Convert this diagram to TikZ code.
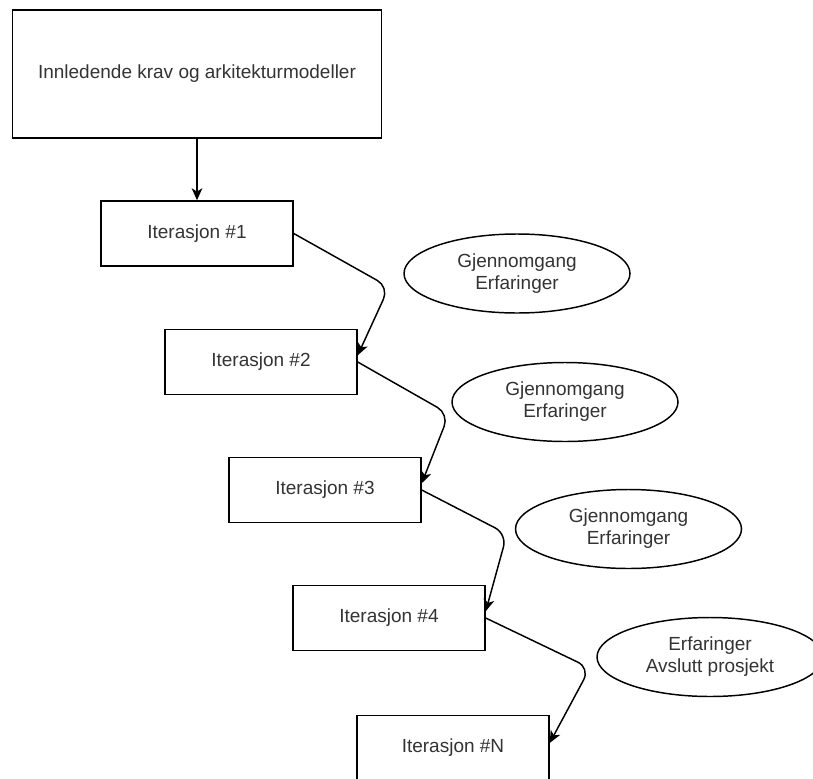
\documentclass[tikz,border=0pt]{standalone}
\usepackage{fontspec}
\setmainfont{Liberation Sans}
\usetikzlibrary{arrows.meta,calc,shapes.geometric}
\definecolor{ink}{HTML}{333333}
\begin{document}
\begin{tikzpicture}[x=0.75pt,y=-0.75pt,
  every node/.style={font=\fontsize{14.25pt}{16.5pt}\selectfont, text=ink},
  box/.style={draw=black, line width=1.1pt, minimum width=144pt, minimum height=48.75pt, inner sep=0pt},
  note/.style={draw=black, line width=1.1pt, ellipse, minimum width=169.5pt, minimum height=59.25pt, inner sep=0pt, align=center},
  flow/.style={draw=black, line width=1.1pt, rounded corners=10pt, -{Stealth[length=9pt,width=8pt,inset=2.5pt]}}]
\useasboundingbox (0,0) rectangle (813,778);
\clip (0,0) rectangle (813,778);

% starting point of the process
\node[box, minimum width=276.75pt, minimum height=96pt] (start) at (197,74) {Innledende krav og arkitekturmodeller};

% iterations
\node[box] (b1) at (197,233.5) {Iterasjon \#1};
\node[box] (b2) at (261,362) {Iterasjon \#2};
\node[box] (b3) at (325,490) {Iterasjon \#3};
\node[box] (b4) at (389,618) {Iterasjon \#4};
\node[box] (bN) at (453,748) {Iterasjon \#N};

% reviews between iterations
\node[note] (e1) at (517,273.5) {Gjennomgang\\Erfaringer};
\node[note] (e2) at (565,402) {Gjennomgang\\Erfaringer};
\node[note] (e3) at (628.5,529) {Gjennomgang\\Erfaringer};
\node[note] (e4) at (710,657) {Erfaringer\\Avslutt prosjekt};

% bends of the connectors
\coordinate (c1) at (389,287);
\coordinate (c2) at (449,414);
\coordinate (c3) at (507,534);
\coordinate (c4) at (590,668);

\draw[flow] (start) -- (b1);
\draw[flow] (b1.east) -- (c1) -- (b2.4);
\draw[flow] (b2.east) -- (c2) -- (b3.4);
\draw[flow] (b3.east) -- (c3) -- (b4.4);
\draw[flow] (b4.east) -- (c4) -- (bN.3);
\end{tikzpicture}
\end{document}
